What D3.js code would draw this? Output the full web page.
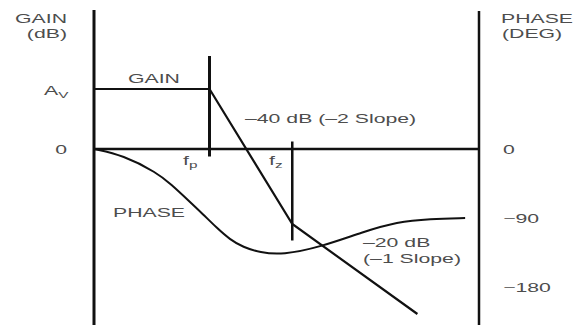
<!DOCTYPE html>
<html>
<head>
<meta charset="utf-8">
<script src="https://cdn.jsdelivr.net/npm/d3@7"></script>
<style>
  body { margin: 0; background: #fff; }
  svg text { font-family: 'Liberation Sans', Arial, sans-serif; font-size: 12.5px; fill: #4d4d4d; }
</style>
</head>
<body>
<svg class="bode" width="573" height="325"></svg>
<script>
// log-frequency in arbitrary decades, gain in dB, phase in degrees
const gainFreq = [0, 3, 5.15, 8.4];
const gainDb   = [40, 40, -50, -110];

const phaseFreq = [0, 0.75, 1.64, 2.0, 2.45, 2.83, 3.19, 3.53, 3.87, 4.31, 4.9, 5.87, 6.99, 7.87, 8.73, 9.64];
const phaseDeg  = [0, -8, -31, -46, -67, -85, -103, -118, -128, -135, -138, -128, -108, -95, -91, -90];

const phaseTicks = [0, -90, -180];
const gainExtent = [-117, 92];      // top / bottom of the two vertical axes

const fpFreq = 3, fpSpan = [-5, 62];
const fzFreq = 5.15, fzSpan = [-61, 5];

function drawBode(){
  const SX = 1.7;   // the type in the picture is stretched sideways

  const svg = d3.select('svg.bode');

  const x = d3.scaleLinear().domain([0, 10]).range([94, 479]);
  const yGain = d3.scaleLinear().domain([0, 40]).range([149, 89]);
  const yPhase = d3.scaleLinear().domain([0, -180]).range([149, 287]);

  function label(txt, px, py, anchor, sub){
    const t = svg.append('text')
      .attr('transform', `translate(${px},${py}) scale(${SX},1)`)
      .style('text-anchor', anchor || 'start')
      .text(txt);
    if (sub) {
      t.append('tspan').attr('dy', 3).style('font-size', '9px').text(sub);
    }
    return t;
  }

  // frame: two vertical axes + zero line
  svg.append('line')
    .attr('x1', x(0)).attr('x2', x(0))
    .attr('y1', yGain(gainExtent[1]) - 1).attr('y2', yGain(gainExtent[0]) + 2)
    .attr('stroke', '#111').attr('stroke-width', 3);

  svg.append('line')
    .attr('x1', x(10)).attr('x2', x(10))
    .attr('y1', yGain(gainExtent[1])).attr('y2', yGain(gainExtent[0]) + 2)
    .attr('stroke', '#111').attr('stroke-width', 2.5);

  svg.append('line')
    .attr('x1', x(0)).attr('x2', x(10))
    .attr('y1', yGain(0)).attr('y2', yGain(0))
    .attr('stroke', '#111').attr('stroke-width', 2.5);

  // right phase axis labels
  const axR = svg.append('g')
    .attr('transform', `translate(${x(10)},0)`)
    .call(d3.axisRight(yPhase).tickValues(phaseTicks).tickSize(0));
  axR.select('.domain').remove();
  axR.selectAll('text')
    .attr('x', 0)
    .attr('transform', `translate(24,0) scale(${SX},1)`)
    .style('font-size', '12.5px')
    .style('font-family', "'Liberation Sans', Arial, sans-serif")
    .attr('fill', '#4d4d4d');

  // pole / zero markers
  [[fpFreq, fpSpan, 3], [fzFreq, fzSpan, 2.5]].forEach(m => {
    svg.append('line')
      .attr('x1', x(m[0])).attr('x2', x(m[0]))
      .attr('y1', yGain(m[1][1])).attr('y2', yGain(m[1][0]))
      .attr('stroke', '#111').attr('stroke-width', m[2]);
  });

  // gain asymptotes
  const gainData = gainFreq.map((f, i) => ({f: f, v: gainDb[i]}));
  svg.append('path')
    .datum(gainData)
    .attr('d', d3.line().x(d => x(d.f)).y(d => yGain(d.v)))
    .attr('fill', 'none')
    .attr('stroke', '#111')
    .attr('stroke-width', 2.2);

  // phase curve
  const phaseData = phaseFreq.map((f, i) => ({f: f, v: phaseDeg[i]}));
  svg.append('path')
    .datum(phaseData)
    .attr('d', d3.line().curve(d3.curveBasis).x(d => x(d.f)).y(d => yPhase(d.v)))
    .attr('fill', 'none')
    .attr('stroke', '#111')
    .attr('stroke-width', 2);

  // texts
  label('GAIN', 67, 23, 'end');
  label('(dB)', 67, 38, 'end');
  label('PHASE', 501, 23);
  label('(DEG)', 502, 38);

  label('A', 44, 95, 'start', 'V');
  label('0', 67, 154, 'end');

  label('GAIN', 128, 83);
  label('–40 dB (–2 Slope)', 245, 123);
  label('f', 183, 165, 'start', 'p');
  label('f', 269, 165, 'start', 'z');
  label('PHASE', 113, 217);
  label('–20 dB', 363, 247);
  label('(–1 Slope)', 363, 263);
}

drawBode();
</script>
</body>
</html>
